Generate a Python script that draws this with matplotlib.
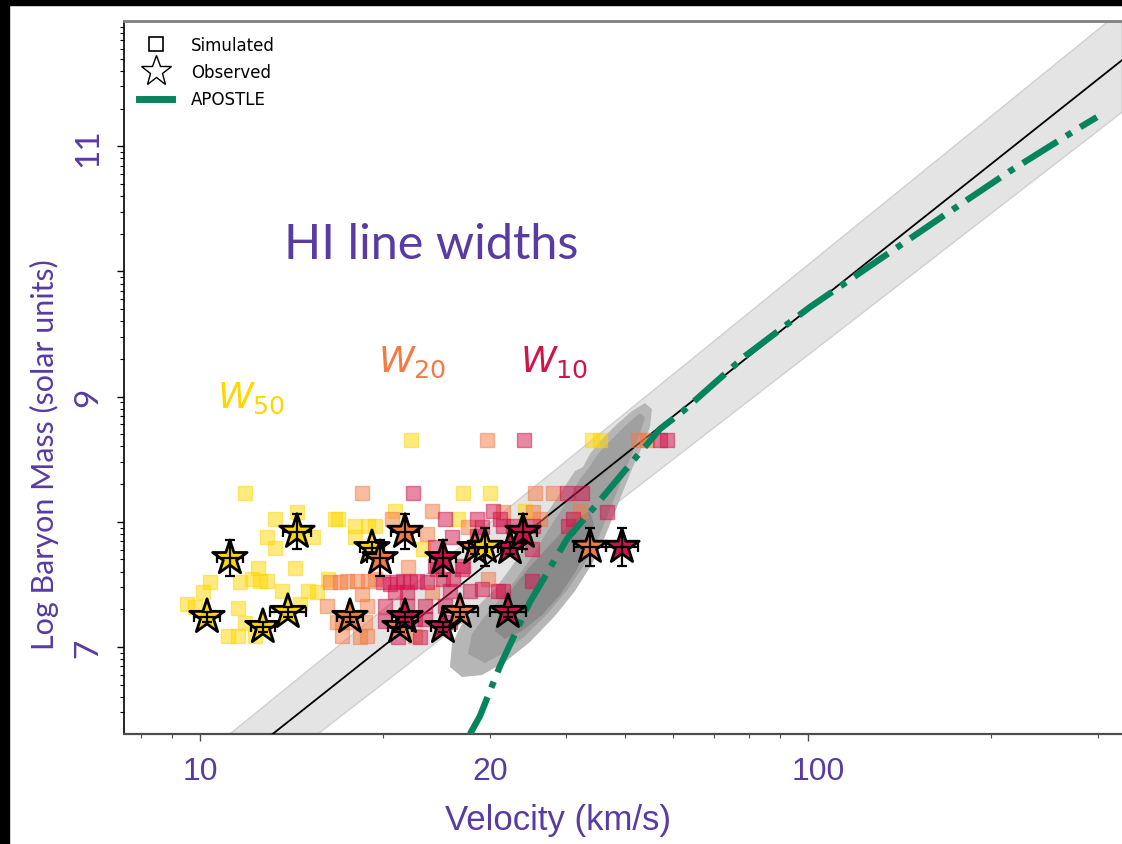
import matplotlib.pyplot as plt
import numpy as np
import matplotlib.transforms as mtransforms
from matplotlib.lines import Line2D
from matplotlib.patches import Polygon, Rectangle

purple = '#583BA3'
c50, c20, c10 = '#FFD700', '#F47A42', '#D1134B'
green = '#07845E'

# simulated galaxies: velocity (km/s) and log baryon mass, one set per line width
sim_v50 = [11.86, 22.23, 44.12, 45.50, 27.08, 29.99, 13.28, 14.44, 16.67, 12.89,
           13.28, 15.34, 12.46, 14.33, 10.38, 10.11, 11.64, 12.18, 12.55, 12.89,
           13.64, 15.05, 15.57, 16.24, 9.52, 9.81, 11.55, 14.61, 11.86, 11.12,
           11.55, 12.32, 16.87, 17.99, 18.89, 19.40, 17.99, 20.93, 26.57, 23.26, 34.25]
sim_m50 = [8.23, 8.65, 8.65, 8.65, 8.23, 8.23, 8.02, 8.08, 8.02, 7.88,
           7.79, 7.88, 7.63, 7.63, 7.52, 7.44, 7.52, 7.54, 7.53, 7.53,
           7.45, 7.45, 7.44, 7.54, 7.34, 7.32, 7.31, 7.34, 7.19, 7.09,
           7.09, 7.09, 8.02, 7.97, 7.97, 7.97, 7.88, 8.09, 8.02, 7.78, 8.09]

sim_v20 = [29.65, 52.53, 54.35, 18.47, 35.56, 38.07, 20.69, 24.07, 23.62, 27.60,
           21.98, 17.00, 18.13, 18.89, 19.40, 17.45, 18.47, 24.07, 18.83, 16.18,
           17.13, 18.68, 16.80, 17.65, 17.13, 18.83, 18.34, 22.57, 29.77, 31.51,
           35.30, 36.24, 42.17, 16.36]
sim_m20 = [8.65, 8.65, 8.65, 8.23, 8.23, 8.23, 8.02, 8.09, 7.90, 7.96,
           7.64, 7.52, 7.53, 7.53, 7.54, 7.53, 7.42, 7.44, 7.33, 7.33,
           7.20, 7.20, 7.20, 7.20, 7.09, 7.09, 7.08, 7.09, 7.54, 8.08,
           8.08, 8.02, 8.09, 7.52]

sim_v10 = [34.12, 57.09, 58.62, 22.40, 40.14, 42.49, 25.29, 28.56, 30.33, 31.15,
           25.97, 29.10, 24.35, 24.53, 26.98, 20.54, 21.57, 22.74, 23.62, 26.07,
           20.00, 21.09, 22.15, 25.10, 24.35, 27.08, 20.93, 21.90, 25.77, 29.10,
           30.91, 27.81, 20.15, 21.90, 23.44, 25.29, 20.15, 22.57, 23.44, 25.77,
           21.17, 23.00, 31.51, 32.72, 35.30, 40.30, 41.07, 46.71, 35.17, 35.17,
           31.51, 28.56]
sim_m10 = [8.65, 8.65, 8.65, 8.23, 8.23, 8.23, 8.02, 8.02, 8.09, 8.02,
           7.88, 7.96, 7.80, 7.62, 7.62, 7.50, 7.53, 7.53, 7.52, 7.54,
           7.52, 7.52, 7.52, 7.54, 7.65, 7.65, 7.44, 7.44, 7.45, 7.46,
           7.45, 7.45, 7.33, 7.33, 7.33, 7.33, 7.21, 7.22, 7.22, 7.20,
           7.08, 7.08, 7.97, 7.97, 7.97, 7.97, 8.02, 8.08, 7.53, 7.78,
           7.45, 7.89]

# observed galaxies (one mass, three line widths each)
obs_logm = [7.16, 7.24, 7.79, 7.71, 7.80, 7.92, 7.28]
obs_logm_err = [0.04, 0.04, 0.05, 0.145, 0.15, 0.14, 0.04]
obs_v50 = [12.69, 10.27, 19.18, 11.20, 29.44, 14.44, 13.95]
obs_v20 = [21.33, 17.65, 28.34, 19.78, 43.80, 21.74, 26.77]
obs_v10 = [25.10, 21.74, 32.35, 25.10, 49.44, 33.99, 32.10]
obs_v_err = [0.02, 0.022, 0.02, 0.022, 0.026, 0.023, 0.03]  # dex

# baryonic Tully-Fisher fit and its scatter band
bf_v = [7.5, 328.5]
bf_logm = [5.363, 11.687]
band_lo = [5.108, 11.271]
band_hi = [5.619, 12.087]

# APOSTLE relation
apo_v = [27.81, 28.88, 31.15, 34.89, 40.14, 44.97, 52.34, 57.09, 62.30, 78.78,
         100.77, 129.9, 166.7, 214.8, 282.2, 298.7]
apo_logm = [6.305, 6.449, 6.848, 7.359, 7.862, 8.142, 8.525, 8.741, 8.884, 9.323,
            9.715, 10.082, 10.441, 10.800, 11.160, 11.232]

# APOSTLE density contours (log v, log M)
cont_outer = [(1.4112, 6.840), (1.4145, 7.024), (1.4309, 7.184), (1.4572, 7.327),
              (1.4852, 7.463), (1.5099, 7.623), (1.5345, 7.798), (1.5592, 7.982),
              (1.5806, 8.142), (1.6003, 8.285), (1.6168, 8.405), (1.6299, 8.437),
              (1.6414, 8.541), (1.6612, 8.661), (1.6859, 8.780), (1.7105, 8.884),
              (1.7319, 8.948), (1.7434, 8.900), (1.7401, 8.756), (1.7270, 8.597),
              (1.7105, 8.421), (1.6941, 8.222), (1.6793, 8.038), (1.6645, 7.862),
              (1.6447, 7.663), (1.6168, 7.447), (1.5839, 7.248), (1.5428, 7.040),
              (1.5016, 6.880), (1.4638, 6.776), (1.4309, 6.760)]
cont_mid = [(1.4408, 6.944), (1.4474, 7.104), (1.4688, 7.248), (1.4967, 7.399),
            (1.5230, 7.559), (1.5477, 7.735), (1.5707, 7.918), (1.5921, 8.078),
            (1.6118, 8.230), (1.6250, 8.341), (1.6382, 8.421), (1.6546, 8.541),
            (1.6776, 8.661), (1.7023, 8.780), (1.7237, 8.868), (1.7319, 8.836),
            (1.7237, 8.701), (1.7072, 8.501), (1.6875, 8.261), (1.6694, 8.038),
            (1.6530, 7.846), (1.6332, 7.663), (1.6053, 7.463), (1.5724, 7.271),
            (1.5345, 7.088), (1.4967, 6.944), (1.4688, 6.872)]
cont_inner = [(1.4852, 7.128), (1.4934, 7.303), (1.5132, 7.463), (1.5395, 7.623),
              (1.5691, 7.782), (1.5970, 7.926), (1.6217, 8.038), (1.6414, 8.086),
              (1.6480, 7.982), (1.6382, 7.798), (1.6184, 7.607), (1.5921, 7.415),
              (1.5625, 7.255), (1.5296, 7.128), (1.5016, 7.064)]

fig = plt.figure(figsize=(11.22, 8.45), dpi=100)
ax = fig.add_axes([124 / 1122, 110 / 845, 998 / 1122, 713 / 845])
ax.set_xscale('log')
ax.set_yscale('log')
ax.set_xlim(7.5, 328.5)
ax.set_ylim(10 ** 6.305, 10 ** 12.0)

ax.fill_between(bf_v, 10 ** np.array(band_lo), 10 ** np.array(band_hi),
                facecolor='#e4e4e4', edgecolor='#d0d0d0', lw=1, zorder=1)

for pts, col in [(cont_outer, '#b6b6b6'), (cont_mid, '#a0a0a0'), (cont_inner, '#8a8a8a')]:
    pts = np.array(pts)
    ax.add_patch(Polygon(np.column_stack([10 ** pts[:, 0], 10 ** pts[:, 1]]),
                         closed=True, fc=col, ec='none', zorder=2))

ax.plot(bf_v, 10 ** np.array(bf_logm), color='k', lw=1.3, zorder=3)

for v, m, c in [(sim_v50, sim_m50, c50), (sim_v20, sim_m20, c20), (sim_v10, sim_m10, c10)]:
    ax.scatter(v, 10 ** np.array(m), marker='s', s=90, color=c, edgecolors=c,
               linewidths=1, alpha=0.5, zorder=4)

ax.plot(apo_v, 10 ** np.array(apo_logm), color=green, lw=4.6, ls='-.', zorder=5)

# observed stars, galaxy by galaxy
logm = np.array(obs_logm)
merr = np.array(obs_logm_err)
verr = np.array(obs_v_err)
M = 10 ** logm
yerr = [M - 10 ** (logm - merr), 10 ** (logm + merr) - M]
for vs, c in [(obs_v50, c50), (obs_v20, c20), (obs_v10, c10)]:
    vs = np.array(vs)
    xerr = [vs - vs * 10 ** (-verr), vs * 10 ** verr - vs]
    ax.errorbar(vs, M, xerr=xerr, yerr=yerr, fmt='none', ecolor='k',
                elinewidth=1.6, capsize=3.5, capthick=1.6, zorder=7)
for i in range(len(obs_logm)):
    ax.scatter([obs_v50[i], obs_v20[i], obs_v10[i]], [M[i]] * 3, marker='*', s=680,
               c=[c50, c20, c10], edgecolors='k', linewidths=2, zorder=6)

# axes styling
ax.spines['right'].set_visible(False)
ax.spines['top'].set_color('0.5')
ax.spines['top'].set_linewidth(2)
ax.spines['bottom'].set_color('0.3')
ax.spines['bottom'].set_linewidth(1.6)
ax.spines['left'].set_color('k')
ax.spines['left'].set_linewidth(1.2)

ax.set_yticks([1e7, 1e8, 1e9, 1e10, 1e11], labels=['7', '', '9', '', '11'])
ax.tick_params(axis='y', which='major', length=5, width=1, pad=10, labelsize=24,
               labelcolor=purple, labelrotation=90)
for lab in ax.get_yticklabels():
    lab.set_fontfamily('Lato')
    lab.set_va('center')
ax.tick_params(axis='y', which='minor', length=3, width=0.8)
ax.tick_params(axis='x', which='major', length=5, width=1, color='0.3', labelbottom=False)
ax.tick_params(axis='x', which='minor', length=3, width=0.8, color='0.3', labelbottom=False)

trans = mtransforms.blended_transform_factory(ax.transData, ax.transAxes)
for xv, lab in [(10, '10'), (30, '20'), (104, '100')]:
    ax.text(xv, -0.052, lab, transform=trans, ha='center', va='center',
            fontsize=23, color=purple, family='Liberation Sans')

fig.text(558 / 1122, 15 / 845, 'Velocity (km/s)', ha='center', va='baseline',
         fontsize=25, color=purple, family='Liberation Sans')
fig.text(44 / 1122, 1 - 455 / 845, 'Log Baryon Mass (solar units)', rotation=90,
         ha='center', va='center', fontsize=22, color=purple, family='Lato')

ax.text(0.3076, 0.687, 'HI line widths', transform=ax.transAxes, ha='center',
        va='center', fontsize=35, color=purple, family='Lato')
ax.text(0.127, 0.472, r'$W_{50}$', transform=ax.transAxes, ha='center', va='center',
        fontsize=26, color=c50)
ax.text(0.289, 0.523, r'$W_{20}$', transform=ax.transAxes, ha='center', va='center',
        fontsize=26, color=c20)
ax.text(0.431, 0.523, r'$W_{10}$', transform=ax.transAxes, ha='center', va='center',
        fontsize=26, color=c10)

handles = [Line2D([], [], ls='none', marker='s', ms=10, mfc='none', mec='k', mew=1.2),
           Line2D([], [], ls='none', marker='*', ms=23, mfc='none', mec='k', mew=1),
           Line2D([], [], color=green, lw=5)]
ax.legend(handles, ['Simulated', 'Observed', 'APOSTLE'], loc='upper left',
          frameon=False, fontsize=12, handlelength=2, handletextpad=1.1,
          borderaxespad=0.5, labelspacing=0.55)

# dark frame along the top and left edges
fig.add_artist(Rectangle((0, 1 - 6 / 845), 1, 6 / 845, transform=fig.transFigure,
                         color='k', zorder=10))
fig.add_artist(Rectangle((0, 0), 9 / 1122, 1, transform=fig.transFigure,
                         color='k', zorder=10))

fig.savefig('out.png', dpi=100)
